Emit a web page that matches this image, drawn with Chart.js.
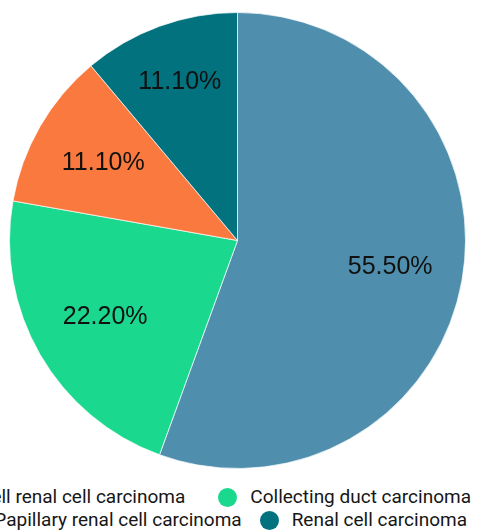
<!DOCTYPE html>
<html>
<head>
<meta charset="utf-8">
<script src="https://cdn.jsdelivr.net/npm/chart.js@4.4.0/dist/chart.umd.min.js"></script>
<style>
    html, body { margin: 0; padding: 0; background: #fff; }
    body { width: 480px; height: 531px; position: relative; overflow: hidden; }
    #chartBox { position: absolute; left: 0; top: 0; width: 480px; height: 470px; }
    .legend-row {
        position: absolute;
        display: flex;
        align-items: center;
        white-space: nowrap;
        font-family: Roboto, sans-serif;
        font-size: 19px;
        line-height: 24px;
        color: #161616;
    }
    .legend-item { display: flex; align-items: center; }
    .legend-dot { width: 19px; height: 19px; border-radius: 50%; margin-right: 13px; flex: none; }
    #legendRow1 .legend-item + .legend-item { margin-left: 33px; }
    #legendRow2 .legend-item + .legend-item { margin-left: 18px; }
</style>
</head>
<body>
<div id="chartBox"><canvas id="pieChart"></canvas></div>
<div class="legend-row" id="legendRow1" style="right: 9px; top: 485px;"></div>
<div class="legend-row" id="legendRow2" style="right: 13px; top: 508px;"></div>

<script>
const categories = [
    'Clear cell renal cell carcinoma',
    'Collecting duct carcinoma',
    'Papillary renal cell carcinoma',
    'Renal cell carcinoma'
];
const shares = [55.5, 22.2, 11.1, 11.1];
const sliceColors = ['#4f8fad', '#1ad98f', '#fa793f', '#02727f'];

// how far out (fraction of radius) each percentage label sits
const labelFrac = [0.68, 0.67, 0.68, 0.74];

const pieLabels = {
    id: 'pieLabels',
    afterDatasetsDraw(chart) {
        const ctx = chart.ctx;
        const meta = chart.getDatasetMeta(0);
        ctx.save();
        ctx.font = '25px "Liberation Sans", Arial, sans-serif';
        ctx.fillStyle = '#111';
        ctx.textAlign = 'center';
        ctx.textBaseline = 'middle';
        meta.data.forEach((arc, i) => {
            const p = arc.getProps(['x', 'y', 'startAngle', 'endAngle', 'outerRadius'], true);
            const mid = (p.startAngle + p.endAngle) / 2;
            const r = p.outerRadius * labelFrac[i];
            const value = chart.data.datasets[0].data[i];
            ctx.fillText(value.toFixed(2) + '%', p.x + Math.cos(mid) * r, p.y + Math.sin(mid) * r);
        });
        ctx.restore();
    }
};

const chart = new Chart(document.getElementById('pieChart'), {
    type: 'pie',
    data: {
        labels: categories,
        datasets: [{
            data: shares,
            backgroundColor: sliceColors,
            borderColor: 'rgba(255,255,255,0.7)',
            borderWidth: 1,
            hoverOffset: 0
        }]
    },
    options: {
        responsive: true,
        maintainAspectRatio: false,
        animation: false,
        layout: { padding: { top: 12, left: 9, right: 14, bottom: 1 } },
        plugins: {
            legend: { display: false },
            tooltip: { enabled: false }
        }
    },
    plugins: [pieLabels]
});

// html legend, two entries per row like the original
const rows = [document.getElementById('legendRow1'), document.getElementById('legendRow2')];
chart.data.labels.forEach((label, i) => {
    const item = document.createElement('div');
    item.className = 'legend-item';
    const dot = document.createElement('span');
    dot.className = 'legend-dot';
    dot.style.background = sliceColors[i];
    const text = document.createElement('span');
    text.textContent = label;
    item.appendChild(dot);
    item.appendChild(text);
    rows[Math.floor(i / 2)].appendChild(item);
});
</script>
</body>
</html>
